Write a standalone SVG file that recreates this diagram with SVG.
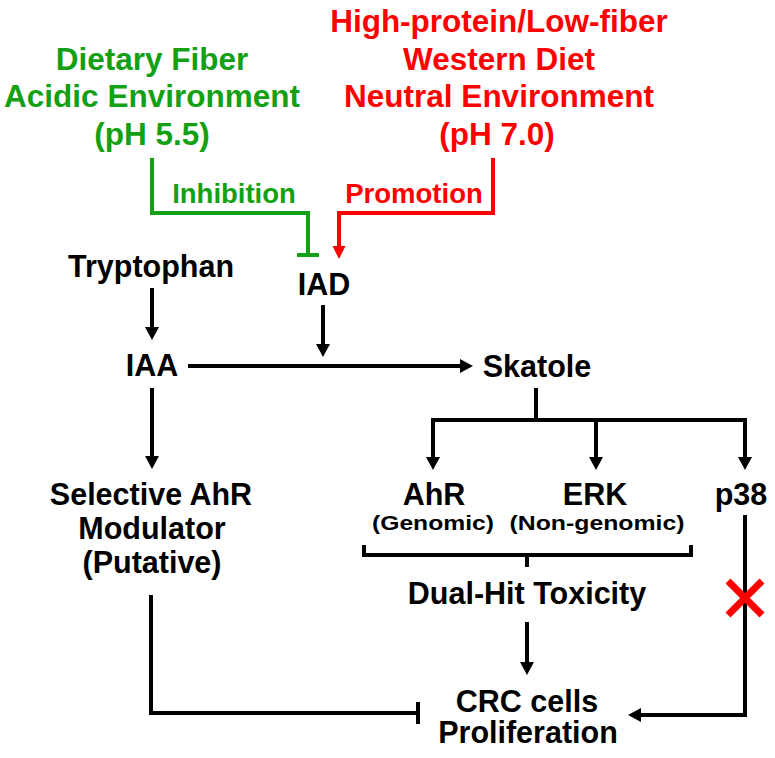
<svg xmlns="http://www.w3.org/2000/svg" width="775" height="758" viewBox="0 0 775 758">
<style>
text{font-family:"Liberation Sans",Arial,Helvetica,sans-serif;font-weight:bold;text-anchor:middle}
.lbl{font-size:30.5px;fill:#000}
.top{font-size:31.5px}
.g{fill:#13a013}
.r{fill:#ff0000}
.sm{font-size:20px;fill:#000}
.act{font-size:27.5px}
.ln{fill:none;stroke:#000;stroke-width:4}
.gl{fill:none;stroke:#13a013;stroke-width:4}
.rl{fill:none;stroke:#ff0000;stroke-width:4}
</style>
<defs>
<marker id="ah" markerUnits="userSpaceOnUse" markerWidth="14" markerHeight="14" refX="5" refY="7" orient="auto">
<path d="M0,0 L13,7 L0,14 z" fill="#000"/>
</marker>
<marker id="ahr" markerUnits="userSpaceOnUse" markerWidth="14" markerHeight="14" refX="5" refY="6.5" orient="auto">
<path d="M0,0 L13,6.5 L0,13 z" fill="#ff0000"/>
</marker>
</defs>
<rect width="775" height="758" fill="#fff"/>

<g id="fiber">
<text class="top g" x="152" y="70">Dietary Fiber</text>
<text class="top g" x="152" y="107">Acidic Environment</text>
<text class="top g" x="152" y="145">(pH 5.5)</text>
</g>
<g id="western">
<text class="top r" x="499" y="32">High-protein/Low-fiber</text>
<text class="top r" x="499" y="70">Western Diet</text>
<text class="top r" x="499" y="107">Neutral Environment</text>
<text class="top r" x="497" y="145">(pH 7.0)</text>
</g>
<g id="tryptophan"><text class="lbl" x="151" y="277">Tryptophan</text></g>
<g id="iad"><text class="lbl" x="324" y="295">IAD</text></g>
<g id="iaa"><text class="lbl" x="152" y="376">IAA</text></g>
<g id="skatole"><text class="lbl" x="537" y="377">Skatole</text></g>
<g id="sahr">
<text class="lbl" x="151" y="505">Selective AhR</text>
<text class="lbl" x="152" y="539">Modulator</text>
<text class="lbl" x="152" y="573">(Putative)</text>
</g>
<g id="ahr-node">
<text class="lbl" x="434" y="505">AhR</text>
<text class="sm" x="433" y="530" textLength="122" lengthAdjust="spacingAndGlyphs">(Genomic)</text>
</g>
<g id="erk">
<text class="lbl" x="595" y="505">ERK</text>
<text class="sm" x="597" y="530" textLength="175" lengthAdjust="spacingAndGlyphs">(Non-genomic)</text>
</g>
<g id="p38"><text class="lbl" x="741" y="505">p38</text></g>
<g id="dualhit"><text class="lbl" x="527" y="604">Dual-Hit Toxicity</text></g>
<g id="crc">
<text class="lbl" x="527" y="712">CRC cells</text>
<text class="lbl" x="528" y="743">Proliferation</text>
</g>

<g id="connectors">
<path class="gl" d="M152,158 V213 H308 V255"/>
<path class="gl" d="M297,255 H319"/>
<text class="act g" x="234" y="203">Inhibition</text>
<path class="rl" d="M493,158 V213 H339 V251" marker-end="url(#ahr)"/>
<text class="act r" x="414" y="203">Promotion</text>

<path class="ln" d="M152,288 V332" marker-end="url(#ah)"/>
<path class="ln" d="M323,305 V349" marker-end="url(#ah)"/>
<path class="ln" d="M188,366 H465" marker-end="url(#ah)"/>
<path class="ln" d="M152,388 V461" marker-end="url(#ah)"/>
<path class="ln" d="M536,388 V420"/>
<path class="ln" d="M433,420 H745"/>
<path class="ln" d="M433,418 V462" marker-end="url(#ah)"/>
<path class="ln" d="M596,418 V462" marker-end="url(#ah)"/>
<path class="ln" d="M745,418 V462" marker-end="url(#ah)"/>
<path class="ln" d="M364,545 V555 H691 V545"/>
<path class="ln" d="M527,555 V567"/>
<path class="ln" d="M527,622 V667" marker-end="url(#ah)"/>
<path class="ln" d="M151,595 V713 H418"/>
<path class="ln" d="M418,702 V724"/>
<path class="ln" d="M745,515 V715 H636" marker-end="url(#ah)"/>
<path d="M728,581 L762,615 M762,581 L728,615" stroke="#ff0000" stroke-width="7" fill="none"/>
</g>
</svg>
